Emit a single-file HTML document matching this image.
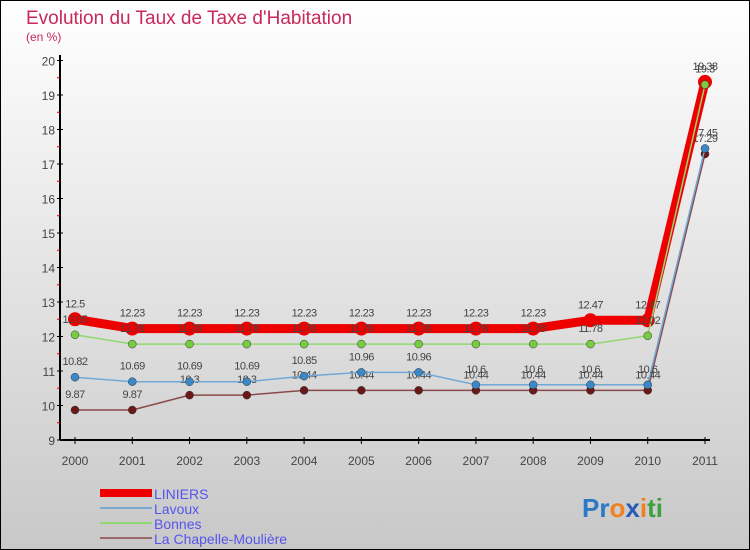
<!DOCTYPE html>
<html><head><meta charset="utf-8"><style>
html,body{margin:0;padding:0}
body{width:750px;height:550px;overflow:hidden;font-family:"Liberation Sans",sans-serif}
svg{display:block}
</style></head><body>
<svg id="chart" width="750" height="550" xmlns="http://www.w3.org/2000/svg">
<defs><linearGradient id="bg" x1="0" y1="0" x2="0" y2="1"><stop offset="0" stop-color="#ffffff"/><stop offset="1" stop-color="#c8c8c8"/></linearGradient></defs>
<rect x="0.5" y="0.5" width="749" height="549" fill="url(#bg)" stroke="#000"/>
<text x="26" y="24" font-size="19" fill="#c8285a">Evolution du Taux de Taxe d'Habitation</text>
<text x="26" y="41" font-size="12" fill="#c8285a">(en %)</text>
<g id="axes"></g>
<g id="series"></g>
<g id="legend">
<rect x="100" y="489" width="52" height="8" fill="#ee0000"/>
<text x="154" y="499" font-size="14" fill="#5555ee">LINIERS</text>
<line x1="100" y1="508" x2="152" y2="508" stroke="#7aa8d0" stroke-width="2"/>
<text x="154" y="514" font-size="14" fill="#5555ee">Lavoux</text>
<line x1="100" y1="523" x2="152" y2="523" stroke="#90d870" stroke-width="2"/>
<text x="154" y="529" font-size="14" fill="#5555ee">Bonnes</text>
<line x1="100" y1="538" x2="152" y2="538" stroke="#9a6a6a" stroke-width="2"/>
<text x="154" y="544" font-size="14" fill="#5555ee">La Chapelle-Moulière</text>
</g>
<text x="582" y="517" font-size="26" font-weight="bold"><tspan fill="#2a7ac8">Pr</tspan><tspan fill="#f08020">o</tspan><tspan fill="#2a5ab8">x</tspan><tspan fill="#f08020">i</tspan><tspan fill="#40a040">ti</tspan></text>
</svg>
<script>
const years=["2000","2001","2002","2003","2004","2005","2006","2007","2008","2009","2010","2011"];
const yTicks=[9,10,11,12,13,14,15,16,17,18,19,20];
const liniers=[12.5,12.23,12.23,12.23,12.23,12.23,12.23,12.23,12.23,12.47,12.47,19.38];
const lavoux=[10.82,10.69,10.69,10.69,10.85,10.96,10.96,10.6,10.6,10.6,10.6,17.45];
const bonnes=[12.05,11.78,11.78,11.78,11.78,11.78,11.78,11.78,11.78,11.78,12.02,19.3];
const chapelle=[9.87,9.87,10.3,10.3,10.44,10.44,10.44,10.44,10.44,10.44,10.44,17.29];
const NS="http://www.w3.org/2000/svg";
const X=i=>75+i*(630/11);
const Y=v=>440-(v-9)*34.5;
function mk(tag,attrs,parent){const e=document.createElementNS(NS,tag);for(const k in attrs)e.setAttribute(k,attrs[k]);parent.appendChild(e);return e;}
const ax=document.getElementById('axes');
let e=mk('line',{x1:60,y1:55,x2:60,y2:440,stroke:'#000','stroke-width':2},ax);


e=mk('line',{x1:60,y1:440,x2:710,y2:440,stroke:'#000','stroke-width':2},ax);


yTicks.forEach(v=>{
 mk('line',{x1:57,y1:Y(v),x2:63,y2:Y(v),stroke:'#000'},ax);
 if(v<20) mk('line',{x1:57,y1:Y(v+0.5),x2:60,y2:Y(v+0.5),stroke:'#e00000'},ax);
 const t=mk('text',{x:55,y:Y(v)+5,'font-size':12,fill:'#444','text-anchor':'end'},ax);t.textContent=v;
 
 
});
years.forEach((y,i)=>{
 mk('line',{x1:X(i),y1:437,x2:X(i),y2:444,stroke:'#000'},ax);
 const t=mk('text',{x:X(i),y:465,'font-size':12,fill:'#444','text-anchor':'middle'},ax);t.textContent=y;
 
 
});
const sg=document.getElementById('series');
function series(name,data,color,w,r,dot,lbl){
 const g=mk('g',{},sg);
 
 
 mk('polyline',{points:data.map((v,i)=>X(i)+','+Y(v)).join(' '),fill:'none',stroke:color,'stroke-width':w,'stroke-linejoin':'round'},g);
 data.forEach((v,i)=>{
  const c=mk('circle',{cx:X(i),cy:Y(v),r:r,fill:dot,stroke:'#333','stroke-width':r>5?0:0.5},g);
  
  
  const t=mk('text',{x:X(i),y:Y(v)-lbl,'font-size':11,fill:'#444','text-anchor':'middle','letter-spacing':'-0.5'},g);t.textContent=v;
  
  
 });
}
series('chapelle',chapelle,'#8a4a4a',1.5,4,'#6a1818',12);
series('lavoux',lavoux,'#70a8d8',1.5,4,'#3a88c8',12);
series('liniers',liniers,'#ee0000',9,7,'#ee0000',12);
series('bonnes',bonnes,'#90d870',1.5,4,'#78cc40',12);
</script>
</body></html>
